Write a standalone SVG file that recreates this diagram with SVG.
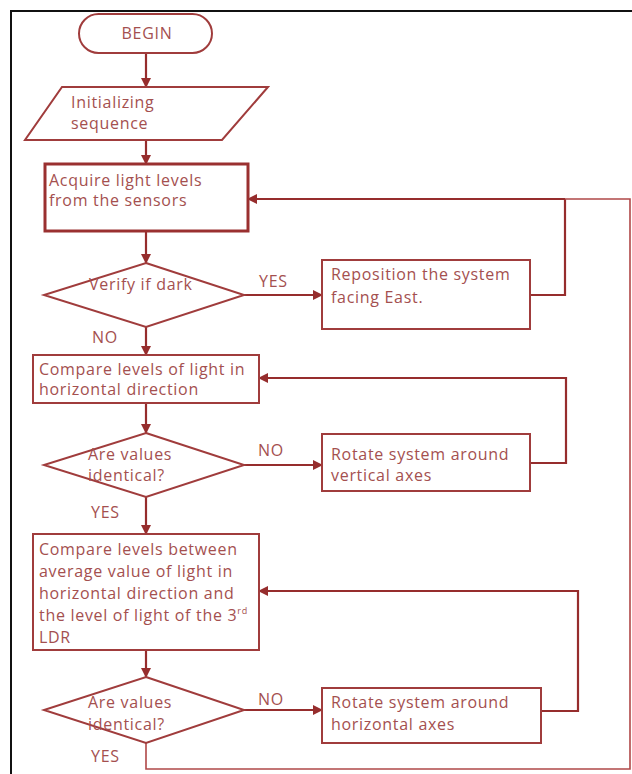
<svg xmlns="http://www.w3.org/2000/svg" width="632" height="774" viewBox="0 0 632 774">
<style>
.box{fill:#fff;stroke:#a03c3c;stroke-width:2}
.thick{stroke-width:3;stroke:#9a3030}
.t{font-family:"Open Sans","Lato","Liberation Sans",sans-serif;font-size:16px;letter-spacing:0.7px;fill:#a4504f}
.c{fill:none;stroke:#962d2d;stroke-width:2.2}
.cl{fill:none;stroke:#b04848;stroke-width:1.6}
</style>
<defs>
<marker id="ah" viewBox="0 0 10 10" refX="9" refY="5" markerWidth="10" markerHeight="10" markerUnits="userSpaceOnUse" orient="auto">
<path d="M0,0 L10,5 L0,10 z" fill="#962d2d"/>
</marker>
</defs>
<rect width="632" height="774" fill="#fff"/>
<path d="M11,774 V11 H632" fill="none" stroke="#111" stroke-width="2"/>

<g id="connectors">
<line class="c" x1="146" y1="53" x2="146" y2="87" marker-end="url(#ah)"/>
<line class="c" x1="146" y1="140" x2="146" y2="164" marker-end="url(#ah)"/>
<line class="c" x1="146" y1="231" x2="146" y2="263" marker-end="url(#ah)"/>
<line class="c" x1="244" y1="295" x2="322" y2="295" marker-end="url(#ah)"/>
<polyline class="c" points="530,295 565,295 565,199"/>
<polyline class="cl" points="146,743 146,769 630,769 630,199 565,199"/>
<line class="c" x1="565" y1="199" x2="248" y2="199" marker-end="url(#ah)"/>
<line class="c" x1="146" y1="327" x2="146" y2="355" marker-end="url(#ah)"/>
<line class="c" x1="146" y1="403" x2="146" y2="433" marker-end="url(#ah)"/>
<line class="c" x1="244" y1="465" x2="322" y2="465" marker-end="url(#ah)"/>
<polyline class="c" points="530,463 566,463 566,378 259,378" marker-end="url(#ah)"/>
<line class="c" x1="146" y1="497" x2="146" y2="534" marker-end="url(#ah)"/>
<line class="c" x1="146" y1="650" x2="146" y2="677" marker-end="url(#ah)"/>
<line class="c" x1="244" y1="710" x2="322" y2="710" marker-end="url(#ah)"/>
<polyline class="c" points="541,711 578,711 578,591 259,591" marker-end="url(#ah)"/>
<text class="t" x="259" y="287">YES</text>
<text class="t" x="92" y="343">NO</text>
<text class="t" x="258" y="456">NO</text>
<text class="t" x="91" y="518">YES</text>
<text class="t" x="258" y="705">NO</text>
<text class="t" x="91" y="762">YES</text>
</g>

<g id="begin">
<rect class="box" x="79" y="14" width="133" height="39" rx="19.5"/>
<text class="t" x="147" y="39" text-anchor="middle">BEGIN</text>
</g>
<g id="init">
<polygon class="box" points="62,87 268,87 222,140 25,140"/>
<text class="t" x="71" y="108">Initializing</text>
<text class="t" x="71" y="129">sequence</text>
</g>
<g id="acquire">
<rect class="box thick" x="45" y="164" width="203" height="67"/>
<text class="t" x="49" y="186">Acquire light levels</text>
<text class="t" x="49" y="206">from the sensors</text>
</g>
<g id="dark">
<polygon class="box" points="146,263 244,295 146,327 44,295"/>
<text class="t" x="89" y="290">Verify if dark</text>
</g>
<g id="reposition">
<rect class="box" x="322" y="260" width="208" height="69"/>
<text class="t" x="331" y="280">Reposition the system</text>
<text class="t" x="331" y="303">facing East.</text>
</g>
<g id="compareH">
<rect class="box" x="33" y="355" width="226" height="48"/>
<text class="t" x="39" y="375">Compare levels of light in</text>
<text class="t" x="39" y="395">horizontal direction</text>
</g>
<g id="ident1">
<polygon class="box" points="146,433 244,465 146,497 44,465"/>
<text class="t" x="88" y="460">Are values</text>
<text class="t" x="88" y="481">identical?</text>
</g>
<g id="rotateV">
<rect class="box" x="322" y="434" width="208" height="57"/>
<text class="t" x="331" y="460">Rotate system around</text>
<text class="t" x="331" y="481">vertical axes</text>
</g>
<g id="compareLDR">
<rect class="box" x="33" y="534" width="226" height="116"/>
<text class="t" x="39" y="555">Compare levels between</text>
<text class="t" x="39" y="577">average value of light in</text>
<text class="t" x="39" y="599">horizontal direction and</text>
<text class="t" x="39" y="621">the level of light of the 3<tspan dy="-7" font-size="9">rd</tspan></text>
<text class="t" x="39" y="643">LDR</text>
</g>
<g id="ident2">
<polygon class="box" points="146,677 244,710 146,743 44,710"/>
<text class="t" x="88" y="708">Are values</text>
<text class="t" x="88" y="730">identical?</text>
</g>
<g id="rotateH">
<rect class="box" x="322" y="688" width="219" height="55"/>
<text class="t" x="331" y="708">Rotate system around</text>
<text class="t" x="331" y="730">horizontal axes</text>
</g>
</svg>
